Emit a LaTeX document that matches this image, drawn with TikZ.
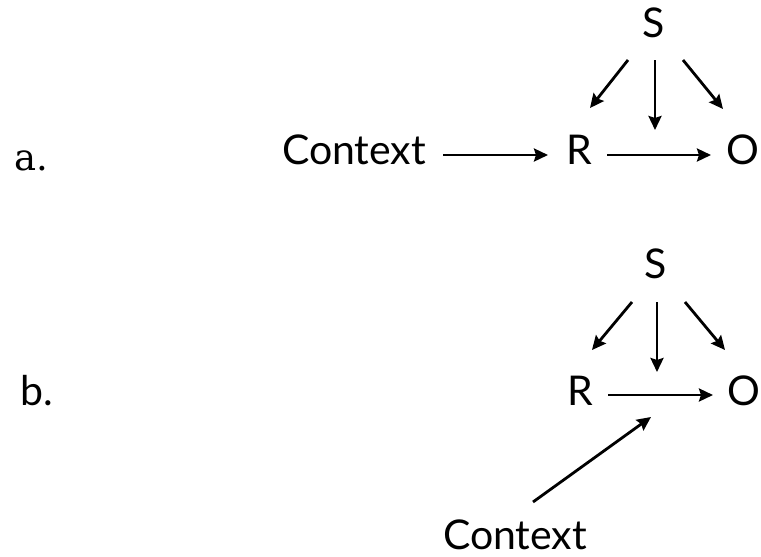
\documentclass[tikz,border=0pt]{standalone}
\usepackage{fontspec}
\setmainfont{Lato}
\newfontfamily\labserif{DejaVu Serif}
\usetikzlibrary{arrows.meta}
\begin{document}
\begin{tikzpicture}[x=1pt,y=-1pt,
  lbl/.style={anchor=base,inner sep=0pt,font=\fontsize{41}{41}\selectfont},
  arr/.style={line width=2.8pt,-{Stealth[length=14pt,width=13pt,inset=2pt]}}]
\useasboundingbox (0,0) rectangle (761,557);
% panel a
\node[lbl,font=\labserif\fontsize{37}{37}\selectfont] (la) at (31,170) {a.};
\node[lbl] (S1) at (654,37) {S};
\node[lbl] (C1) at (354,164) {Context};
\node[lbl] (R1) at (579,164) {R};
\node[lbl] (O1) at (743,164) {O};
\coordinate (s1l) at (628,60); \coordinate (e1l) at (590,108);
\coordinate (s1m) at (655,60); \coordinate (e1m) at (655,130);
\coordinate (s1r) at (683,60); \coordinate (e1r) at (723,109);
\coordinate (c1s) at (443,155); \coordinate (c1e) at (548,155);
\coordinate (r1s) at (607,155); \coordinate (r1e) at (711,155);
\draw[arr] (s1l) -- (e1l);
\draw[arr] (s1m) -- (e1m);
\draw[arr] (s1r) -- (e1r);
\draw[arr] (c1s) -- (c1e);
\draw[arr] (r1s) -- (r1e);
% panel b
\node[lbl] (lb) at (37,405) {b.};
\node[lbl] (S2) at (656,278) {S};
\node[lbl] (R2) at (580,405) {R};
\node[lbl] (O2) at (744,405) {O};
\node[lbl] (C2) at (515,549) {Context};
\coordinate (s2l) at (632,302); \coordinate (e2l) at (592,350);
\coordinate (s2m) at (657,302); \coordinate (e2m) at (657,372);
\coordinate (s2r) at (685,302); \coordinate (e2r) at (725,350);
\coordinate (r2s) at (608,395); \coordinate (r2e) at (713,395);
\coordinate (c2s) at (533,502); \coordinate (c2e) at (651,417);
\draw[arr] (s2l) -- (e2l);
\draw[arr] (s2m) -- (e2m);
\draw[arr] (s2r) -- (e2r);
\draw[arr] (r2s) -- (r2e);
\draw[arr] (c2s) -- (c2e);
\end{tikzpicture}
\end{document}
